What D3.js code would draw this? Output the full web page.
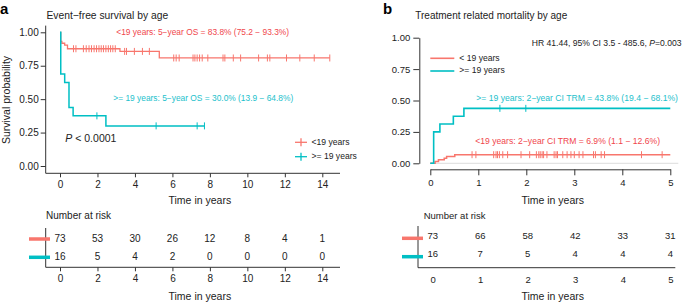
<!DOCTYPE html>
<html>
<head>
<meta charset="utf-8">
<script src="https://cdn.jsdelivr.net/npm/d3@7"></script>
<style>
  body { margin: 0; background: #fff; }
  svg { display: block; font-family: "Liberation Sans", Arial, sans-serif; }
</style>
</head>
<body>
<svg id="chart" width="694" height="306"></svg>
<script>
// ---- panel a: event-free survival (step points: [time, survival]) ----
const efsYoungSteps = [[0, 1], [0.04, 0.932], [0.1, 0.918], [0.25, 0.904], [0.4, 0.877], [3.2, 0.857], [5.3, 0.808], [14.4, 0.808]];
const efsYoungCensor = [0.72, 0.85, 1.25, 1.4, 1.55, 1.68, 1.82, 1.95, 2.08, 2.2, 2.32, 2.45, 2.58, 2.7, 2.82, 2.95,
  3.45, 3.55, 3.97, 4.4, 4.77, 6.07, 6.2, 6.36, 7.1, 7.2, 7.32, 7.45, 7.59, 7.89, 8.7, 8.8, 9.25, 9.64,
  10.6, 11.07, 11.2, 12.09, 12.8, 13.57, 14.4];
const efsOldSteps = [[0, 1], [0.04, 0.6875], [0.25, 0.625], [0.48, 0.4375], [0.7, 0.375], [2.45, 0.3], [7.71, 0.3]];
const efsOldCensor = [1.97, 5.13, 7.32, 7.71];
const efsTicks = [0, 2, 4, 6, 8, 10, 12, 14];
const efsRiskYoung = [73, 53, 30, 26, 12, 8, 4, 1];
const efsRiskOld = [16, 5, 4, 2, 0, 0, 0, 0];

// ---- panel b: cumulative incidence of treatment related mortality ----
const trmYoungSteps = [[0, 0], [0.1, 0.0137], [0.17, 0.0274], [0.29, 0.0411], [0.34, 0.0548], [0.51, 0.0685], [5, 0.0685]];
const trmYoungCensor = [0.87, 0.95, 1.32, 1.37, 1.4, 1.44, 1.51, 1.61, 1.89, 2.07, 2.21, 2.26, 2.29, 2.33, 2.36, 2.43,
  2.58, 2.62, 2.65, 2.76, 2.85, 2.93, 3.0, 3.1, 3.18, 3.4, 3.44, 3.56, 3.63, 4.4, 4.83];
const trmOldSteps = [[0, 0], [0.07, 0.25], [0.2, 0.3125], [0.48, 0.375], [0.7, 0.4375], [5, 0.4375]];
const trmOldCensor = [1.45, 1.99];
const trmTicks = [0, 1, 2, 3, 4, 5];
const trmRiskYoung = [73, 66, 58, 42, 33, 31];
const trmRiskOld = [16, 7, 5, 4, 4, 4];

const probTicks = [0, 0.25, 0.5, 0.75, 1];

const RED = "#F8766D", CYAN = "#00BFC4";
const RED_TXT = "#F0464C", CYAN_TXT = "#1DC1CC";
const AXIS = "#333";

const svg = d3.select("#chart");
const fmt2 = d3.format(".2f");
const fmtInt = d3.format("d");

function stepPath(x, y, steps) {
  return d3.line().curve(d3.curveStepAfter).x(d => x(d[0])).y(d => y(d[1]))(steps);
}
function levelAt(steps, t) {
  let v = steps[0][1];
  steps.forEach(s => { if (s[0] <= t) v = s[1]; });
  return v;
}
function drawCurve(g, x, y, steps, censor, color, w, mark) {
  g.append("path").attr("d", stepPath(x, y, steps))
    .attr("fill", "none").attr("stroke", color).attr("stroke-width", w);
  g.selectAll(null).data(censor).enter().append("line")
    .attr("x1", d => x(d)).attr("x2", d => x(d))
    .attr("y1", d => y(levelAt(steps, d)) - mark).attr("y2", d => y(levelAt(steps, d)) + mark)
    .attr("stroke", color).attr("stroke-width", 1);
}
function text(g, x, y, str, size, opts = {}) {
  return g.append("text").attr("x", x).attr("y", y).attr("font-size", size)
    .attr("fill", opts.fill || "#222").attr("text-anchor", opts.anchor || "start")
    .attr("dominant-baseline", "middle").text(str);
}

// ================= panel a =================
{
  const x = d3.scaleLinear().domain([0, 14]).range([60, 322.3]);
  const y = d3.scaleLinear().domain([0, 1]).range([166, 32.3]);
  const g = svg.append("g");

  text(g, 0, 10, "a", 15).attr("font-weight", "bold").attr("fill", "#000");
  text(g, 46.5, 16, "Event\u2212free survival by age", 10.3);

  // axes (ggplot style, joined at the corner)
  const left = 45.7, bottom = 173.3, right = 340;
  g.append("line").attr("x1", left).attr("x2", left).attr("y1", y(1.05)).attr("y2", bottom).attr("stroke", AXIS);
  g.append("line").attr("x1", left).attr("x2", right).attr("y1", bottom).attr("y2", bottom).attr("stroke", AXIS);
  const ya = g.append("g").attr("transform", `translate(${left},0)`)
    .call(d3.axisLeft(y).tickValues(probTicks).tickFormat(fmt2).tickSize(5).tickPadding(2));
  ya.select(".domain").remove();
  const xa = g.append("g").attr("transform", `translate(0,${bottom})`)
    .call(d3.axisBottom(x).tickValues(efsTicks).tickFormat(fmtInt).tickSize(4).tickPadding(4));
  xa.select(".domain").remove();
  [ya, xa].forEach(a => {
    a.selectAll("text").attr("font-size", 10).attr("fill", "#222").attr("font-family", null);
    a.selectAll("line").attr("stroke", AXIS);
  });
  text(g, (left + right) / 2 + 7, 201.5, "Time in years", 10.5, { anchor: "middle" });
  g.append("text").attr("transform", "translate(7,100) rotate(-90)").attr("text-anchor", "middle")
    .attr("dominant-baseline", "middle").attr("font-size", 10.5).attr("fill", "#222").text("Survival probability");

  drawCurve(g, x, y, efsYoungSteps, efsYoungCensor, RED, 1.3, 3.5);
  drawCurve(g, x, y, efsOldSteps, efsOldCensor, CYAN, 1.5, 3.5);

  text(g, 116.3, 32.5, "<19 years: 5\u2212year OS = 83.8% (75.2 \u2212 93.3%)", 8.4, { fill: RED_TXT });
  text(g, 113.3, 99, ">= 19 years: 5\u2212year OS = 30.0% (13.9 \u2212 64.8%)", 8.4, { fill: CYAN_TXT });
  const p = g.append("text").attr("x", 65.3).attr("y", 139).attr("font-size", 10.5).attr("fill", "#222")
    .attr("dominant-baseline", "middle");
  p.append("tspan").attr("font-style", "italic").text("P");
  p.append("tspan").text(" < 0.0001");

  // legend
  [[RED, "<19 years", 142.3], [CYAN, ">= 19 years", 156.7]].forEach(([c, lab, ly]) => {
    g.append("line").attr("x1", 295).attr("x2", 307).attr("y1", ly).attr("y2", ly).attr("stroke", c).attr("stroke-width", 1.3);
    g.append("line").attr("x1", 301).attr("x2", 301).attr("y1", ly - 4).attr("y2", ly + 4).attr("stroke", c).attr("stroke-width", 1.3);
    text(g, 311.5, ly, lab, 8.6);
  });

  // risk table
  text(g, 46, 216, "Number at risk", 10);
  const rTop = 228, rBottom = 267.3;
  g.append("line").attr("x1", left).attr("x2", left).attr("y1", rTop).attr("y2", rBottom).attr("stroke", AXIS);
  g.append("line").attr("x1", left).attr("x2", right).attr("y1", rBottom).attr("y2", rBottom).attr("stroke", AXIS);
  const xr = g.append("g").attr("transform", `translate(0,${rBottom})`)
    .call(d3.axisBottom(x).tickValues(efsTicks).tickFormat(fmtInt).tickSize(4).tickPadding(4));
  xr.select(".domain").remove();
  xr.selectAll("text").attr("font-size", 10).attr("fill", "#222").attr("font-family", null);
  xr.selectAll("line").attr("stroke", AXIS);
  text(g, (left + right) / 2 + 7, 297, "Time in years", 10.5, { anchor: "middle" });
  [[efsRiskYoung, RED, 239], [efsRiskOld, CYAN, 257.3]].forEach(([vals, c, ry]) => {
    g.append("line").attr("x1", 29).attr("x2", 50).attr("y1", ry).attr("y2", ry).attr("stroke", c).attr("stroke-width", 3.5);
    g.selectAll(null).data(vals).enter().append("text")
      .attr("x", (d, i) => x(efsTicks[i])).attr("y", ry).attr("text-anchor", "middle")
      .attr("dominant-baseline", "middle").attr("font-size", 10).attr("fill", "#222").text(d => d);
  });
}

// ================= panel b =================
{
  const x = d3.scaleLinear().domain([0, 5]).range([430.3, 670.3]);
  const y = d3.scaleLinear().domain([0, 1]).range([163.3, 37.7]);
  const g = svg.append("g");

  text(g, 383, 10, "b", 15).attr("font-weight", "bold").attr("fill", "#000");
  text(g, 415.3, 16, "Treatment related mortality by age", 10);

  // faint baseline
  g.append("line").attr("x1", x(0)).attr("x2", x(5) + 8).attr("y1", y(0)).attr("y2", y(0))
    .attr("stroke", "#ddd").attr("stroke-width", 1);

  // base-R style axes
  const ya = g.append("g").attr("transform", "translate(419.3,0)")
    .call(d3.axisLeft(y).tickValues(probTicks).tickFormat(fmt2).tickSize(6).tickPadding(3).tickSizeOuter(0));
  const xa = g.append("g").attr("transform", "translate(0,169.3)")
    .call(d3.axisBottom(x).tickValues(trmTicks).tickFormat(fmtInt).tickSize(6).tickPadding(4).tickSizeOuter(0));
  [ya, xa].forEach(a => {
    a.selectAll("text").attr("font-size", 9.5).attr("fill", "#222").attr("font-family", null);
    a.selectAll("line").attr("stroke", AXIS);
    a.select(".domain").attr("stroke", AXIS);
  });
  text(g, 552.7, 201.5, "Time in years", 10.5, { anchor: "middle" });

  drawCurve(g, x, y, trmYoungSteps, trmYoungCensor, RED, 1.5, 3.5);
  drawCurve(g, x, y, trmOldSteps, trmOldCensor, CYAN, 1.6, 3.5);

  const hr = g.append("text").attr("x", 681.5).attr("y", 44.3).attr("text-anchor", "end").attr("font-size", 8.6)
    .attr("fill", "#222").attr("dominant-baseline", "middle");
  hr.append("tspan").text("HR 41.44, 95% CI 3.5 - 485.6, ");
  hr.append("tspan").attr("font-style", "italic").text("P");
  hr.append("tspan").text("=0.003");

  [[RED, "< 19 years", 58.3], [CYAN, ">= 19 years", 71]].forEach(([c, lab, ly]) => {
    g.append("line").attr("x1", 430.3).attr("x2", 454.3).attr("y1", ly).attr("y2", ly).attr("stroke", c).attr("stroke-width", 1.6);
    text(g, 459.3, ly, lab, 8.6);
  });
  text(g, 476.3, 99, ">= 19 years: 2\u2212year CI TRM = 43.8% (19.4 \u2212 68.1%)", 8.6, { fill: CYAN_TXT });
  text(g, 475.3, 141.3, "<19 years: 2\u2212year CI TRM = 6.9% (1.1 \u2212 12.6%)", 8.6, { fill: RED_TXT });

  // risk table
  const xr = d3.scaleLinear().domain([0, 5]).range([432.7, 670.3]);
  text(g, 423.7, 216, "Number at risk", 9.5);
  g.append("line").attr("x1", 418).attr("x2", 418).attr("y1", 226).attr("y2", 267.7).attr("stroke", AXIS);
  g.append("line").attr("x1", 418).attr("x2", 675.3).attr("y1", 267.7).attr("y2", 267.7).attr("stroke", AXIS);
  const xra = g.append("g").attr("transform", "translate(0,267.7)")
    .call(d3.axisBottom(xr).tickValues(trmTicks).tickFormat(fmtInt).tickSize(0).tickPadding(9));
  xra.select(".domain").remove();
  xra.selectAll("text").attr("font-size", 9.5).attr("fill", "#222").attr("font-family", null);
  text(g, 552.7, 297.3, "Time in years", 10.5, { anchor: "middle" });
  [[trmRiskYoung, RED, 238.3, 236], [trmRiskOld, CYAN, 256.7, 254.5]].forEach(([vals, c, by, ty]) => {
    g.append("line").attr("x1", 402).attr("x2", 423).attr("y1", by).attr("y2", by).attr("stroke", c).attr("stroke-width", 3.5);
    g.selectAll(null).data(vals).enter().append("text")
      .attr("x", (d, i) => xr(trmTicks[i])).attr("y", ty).attr("text-anchor", "middle")
      .attr("dominant-baseline", "middle").attr("font-size", 9.5).attr("fill", "#222").text(d => d);
  });
}
</script>
</body>
</html>
